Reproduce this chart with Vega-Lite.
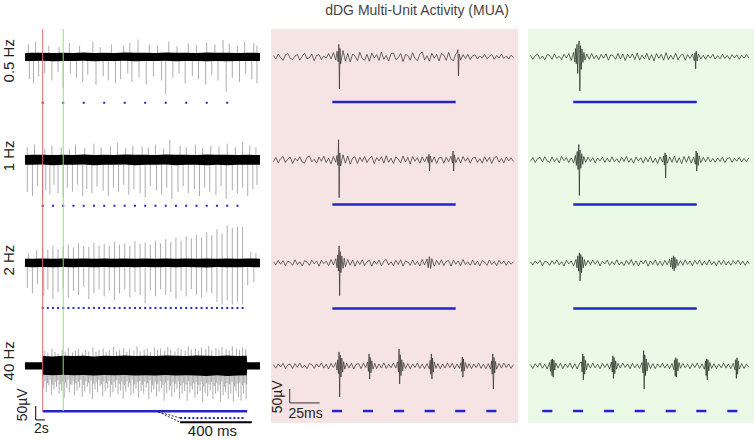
{
"$schema": "https://vega.github.io/schema/vega-lite/v6.json",
"padding": {"left": 0, "top": 3, "right": 0, "bottom": 0},
"title": {"text": "dDG Multi-Unit Activity (MUA)", "fontSize": 14, "font": "Liberation Sans", "fontWeight": "normal", "color": "#444", "anchor": "middle", "dx": 40, "offset": 11},
"config": {"view": {"stroke": null}, "axis": {"disable": true}, "font": "Liberation Sans", "text": {"font": "Liberation Sans", "color": "#222"}},
"datasets": {
"L1b": [{"t":-1.73,"lo":-15,"hi":14},{"t":-1,"lo":-15,"hi":15},{"t":0,"lo":-14,"hi":15},{"t":1,"lo":-16,"hi":14},{"t":2,"lo":-15,"hi":15},{"t":3,"lo":-15,"hi":14},{"t":4,"lo":-14,"hi":16},{"t":5,"lo":-16,"hi":14},{"t":6,"lo":-15,"hi":15},{"t":7,"lo":-15,"hi":14},{"t":8,"lo":-14,"hi":16},{"t":9,"lo":-16,"hi":15},{"t":10,"lo":-15,"hi":15},{"t":11,"lo":-15,"hi":14},{"t":12,"lo":-14,"hi":16},{"t":13,"lo":-16,"hi":15},{"t":14,"lo":-15,"hi":15},{"t":15,"lo":-15,"hi":14},{"t":16,"lo":-16,"hi":16},{"t":17,"lo":-15,"hi":15},{"t":18,"lo":-16,"hi":15},{"t":19,"lo":-15,"hi":14},{"t":20,"lo":-15,"hi":15},{"t":21.2,"lo":-15,"hi":14}],
"L2b": [{"t":-1.73,"lo":-18,"hi":17},{"t":-1,"lo":-18,"hi":18},{"t":0,"lo":-17,"hi":18},{"t":1,"lo":-19,"hi":17},{"t":2,"lo":-18,"hi":18},{"t":3,"lo":-18,"hi":17},{"t":4,"lo":-17,"hi":19},{"t":5,"lo":-19,"hi":17},{"t":6,"lo":-18,"hi":18},{"t":7,"lo":-18,"hi":17},{"t":8,"lo":-17,"hi":19},{"t":9,"lo":-19,"hi":18},{"t":10,"lo":-18,"hi":18},{"t":11,"lo":-18,"hi":17},{"t":12,"lo":-17,"hi":19},{"t":13,"lo":-19,"hi":18},{"t":14,"lo":-18,"hi":18},{"t":15,"lo":-18,"hi":17},{"t":16,"lo":-19,"hi":19},{"t":17,"lo":-18,"hi":18},{"t":18,"lo":-19,"hi":18},{"t":19,"lo":-18,"hi":17},{"t":20,"lo":-18,"hi":18},{"t":21.2,"lo":-18,"hi":17}],
"L3b": [{"t":-1.73,"lo":-15,"hi":15},{"t":-1,"lo":-16,"hi":15},{"t":0,"lo":-15,"hi":16},{"t":1,"lo":-16,"hi":15},{"t":2,"lo":-15,"hi":16},{"t":3,"lo":-16,"hi":15},{"t":4,"lo":-15,"hi":16},{"t":5,"lo":-16,"hi":15},{"t":6,"lo":-15,"hi":16},{"t":7,"lo":-16,"hi":15},{"t":8,"lo":-15,"hi":16},{"t":9,"lo":-16,"hi":15},{"t":10,"lo":-15,"hi":16},{"t":11,"lo":-16,"hi":15},{"t":12,"lo":-15,"hi":16},{"t":13,"lo":-16,"hi":15},{"t":14,"lo":-15,"hi":16},{"t":15,"lo":-16,"hi":15},{"t":16,"lo":-17,"hi":16},{"t":17,"lo":-15,"hi":15},{"t":18,"lo":-16,"hi":16},{"t":19,"lo":-16,"hi":15},{"t":20,"lo":-15,"hi":16},{"t":21.2,"lo":-16,"hi":15}],
"L4b": [{"t":-1.73,"lo":-13,"hi":13},{"t":-0.05,"lo":-13,"hi":13},{"t":0,"lo":-32,"hi":35},{"t":1,"lo":-34,"hi":34},{"t":2,"lo":-32,"hi":36},{"t":3,"lo":-34,"hi":35},{"t":4,"lo":-33,"hi":36},{"t":5,"lo":-35,"hi":34},{"t":6,"lo":-33,"hi":36},{"t":7,"lo":-34,"hi":35},{"t":8,"lo":-33,"hi":37},{"t":9,"lo":-35,"hi":35},{"t":10,"lo":-34,"hi":36},{"t":11,"lo":-35,"hi":35},{"t":12,"lo":-33,"hi":37},{"t":13,"lo":-35,"hi":36},{"t":14,"lo":-34,"hi":35},{"t":15,"lo":-35,"hi":37},{"t":16,"lo":-36,"hi":36},{"t":17,"lo":-34,"hi":35},{"t":18,"lo":-36,"hi":37},{"t":19,"lo":-35,"hi":35},{"t":19.9,"lo":-34,"hi":36},{"t":19.95,"lo":-13,"hi":13},{"t":21.2,"lo":-13,"hi":13}],
"L1s": [{"t":-1.3,"a":-80,"b":0},{"t":-0.9,"a":-95,"b":0},{"t":-0.4,"a":-70,"b":0},{"t":0.2,"a":-60,"b":0},{"t":0.9,"a":-85,"b":0},{"t":1.5,"a":-55,"b":0},{"t":2.0,"a":-110,"b":0},{"t":2.7,"a":-60,"b":0},{"t":3.3,"a":-75,"b":0},{"t":3.9,"a":-90,"b":0},{"t":4.4,"a":-65,"b":0},{"t":5.2,"a":-100,"b":0},{"t":5.9,"a":-70,"b":0},{"t":6.4,"a":-85,"b":0},{"t":7.1,"a":-95,"b":0},{"t":7.6,"a":-80,"b":0},{"t":8.3,"a":-60,"b":0},{"t":8.7,"a":-90,"b":0},{"t":9.4,"a":-75,"b":0},{"t":10.1,"a":-100,"b":0},{"t":10.8,"a":-70,"b":0},{"t":11.6,"a":-85,"b":0},{"t":12.0,"a":-135,"b":0},{"t":12.7,"a":-75,"b":0},{"t":13.3,"a":-60,"b":0},{"t":13.9,"a":-95,"b":0},{"t":14.6,"a":-70,"b":0},{"t":15.2,"a":-80,"b":0},{"t":15.9,"a":-100,"b":0},{"t":16.5,"a":-65,"b":0},{"t":17.1,"a":-85,"b":0},{"t":17.9,"a":-125,"b":0},{"t":18.5,"a":-75,"b":0},{"t":19.2,"a":-90,"b":0},{"t":19.8,"a":-60,"b":0},{"t":20.4,"a":-80,"b":0},{"t":20.9,"a":-95,"b":0},
{"t":-1.4,"a":0,"b":45},{"t":-0.7,"a":0,"b":55},{"t":0.6,"a":0,"b":40},{"t":1.6,"a":0,"b":35},{"t":2.6,"a":0,"b":50},{"t":3.6,"a":0,"b":40},{"t":4.9,"a":0,"b":55},{"t":5.6,"a":0,"b":35},{"t":6.7,"a":0,"b":45},{"t":7.9,"a":0,"b":40},{"t":8.5,"a":0,"b":50},{"t":9.3,"a":0,"b":62},{"t":10.4,"a":0,"b":45},{"t":11.2,"a":0,"b":40},{"t":12.3,"a":0,"b":55},{"t":13.1,"a":0,"b":38},{"t":14.2,"a":0,"b":48},{"t":15.0,"a":0,"b":42},{"t":16.0,"a":0,"b":52},{"t":16.8,"a":0,"b":45},{"t":17.6,"a":0,"b":60},{"t":18.2,"a":0,"b":48},{"t":19.0,"a":0,"b":40},{"t":19.7,"a":0,"b":55},{"t":20.6,"a":0,"b":50},{"t":20.9,"a":0,"b":40}],
"L2s": [{"t":-1.5,"a":-115,"b":0},{"t":-1.0,"a":-130,"b":0},{"t":-0.5,"a":-95,"b":0},{"t":0.0,"a":-140,"b":0},{"t":0.3,"a":-110,"b":0},{"t":0.7,"a":-125,"b":0},{"t":1.1,"a":-90,"b":0},{"t":1.5,"a":-120,"b":0},{"t":2.0,"a":-135,"b":0},{"t":2.4,"a":-100,"b":0},{"t":2.9,"a":-115,"b":0},{"t":3.4,"a":-90,"b":0},{"t":3.9,"a":-130,"b":0},{"t":4.3,"a":-105,"b":0},{"t":4.8,"a":-120,"b":0},{"t":5.3,"a":-95,"b":0},{"t":5.9,"a":-110,"b":0},{"t":6.4,"a":-130,"b":0},{"t":6.9,"a":-100,"b":0},{"t":7.4,"a":-115,"b":0},{"t":7.9,"a":-90,"b":0},{"t":8.4,"a":-125,"b":0},{"t":8.9,"a":-105,"b":0},{"t":9.5,"a":-120,"b":0},{"t":10.0,"a":-135,"b":0},{"t":10.5,"a":-95,"b":0},{"t":11.1,"a":-110,"b":0},{"t":11.6,"a":-125,"b":0},{"t":12.1,"a":-100,"b":0},{"t":12.6,"a":-140,"b":0},{"t":13.2,"a":-115,"b":0},{"t":13.7,"a":-95,"b":0},{"t":14.2,"a":-120,"b":0},{"t":14.8,"a":-105,"b":0},{"t":15.3,"a":-130,"b":0},{"t":15.8,"a":-100,"b":0},{"t":16.3,"a":-115,"b":0},{"t":16.9,"a":-125,"b":0},{"t":17.4,"a":-95,"b":0},{"t":17.9,"a":-140,"b":0},{"t":18.5,"a":-110,"b":0},{"t":19.0,"a":-120,"b":0},{"t":19.5,"a":-100,"b":0},{"t":20.0,"a":-130,"b":0},{"t":20.5,"a":-105,"b":0},{"t":20.9,"a":-90,"b":0},
{"t":-1.5,"a":0,"b":45},{"t":-0.8,"a":0,"b":55},{"t":0.2,"a":0,"b":40},{"t":0.9,"a":0,"b":50},{"t":1.8,"a":0,"b":45},{"t":2.6,"a":0,"b":38},{"t":3.2,"a":0,"b":55},{"t":4.1,"a":0,"b":42},{"t":5.0,"a":0,"b":58},{"t":5.7,"a":0,"b":45},{"t":6.6,"a":0,"b":50},{"t":7.3,"a":0,"b":60},{"t":8.1,"a":0,"b":42},{"t":8.8,"a":0,"b":50},{"t":9.7,"a":0,"b":48},{"t":10.3,"a":0,"b":45},{"t":11.0,"a":0,"b":55},{"t":11.8,"a":0,"b":40},{"t":12.4,"a":0,"b":72},{"t":13.4,"a":0,"b":50},{"t":14.0,"a":0,"b":45},{"t":14.9,"a":0,"b":55},{"t":15.6,"a":0,"b":42},{"t":16.4,"a":0,"b":50},{"t":17.2,"a":0,"b":48},{"t":18.0,"a":0,"b":58},{"t":18.8,"a":0,"b":45},{"t":19.5,"a":0,"b":65},{"t":20.2,"a":0,"b":50},{"t":20.8,"a":0,"b":45}],
"L3s": [{"t":-1.5,"a":-90,"b":0},{"t":-1.0,"a":-110,"b":0},{"t":-0.5,"a":-75,"b":0},{"t":0.1,"a":-120,"b":0},{"t":0.5,"a":-95,"b":0},{"t":1.0,"a":-130,"b":0},{"t":1.5,"a":-105,"b":0},{"t":2.0,"a":-90,"b":0},{"t":2.5,"a":-125,"b":0},{"t":3.0,"a":-100,"b":0},{"t":3.5,"a":-115,"b":0},{"t":4.0,"a":-85,"b":0},{"t":4.5,"a":-130,"b":0},{"t":5.0,"a":-110,"b":0},{"t":5.5,"a":-95,"b":0},{"t":6.0,"a":-120,"b":0},{"t":6.5,"a":-100,"b":0},{"t":7.0,"a":-135,"b":0},{"t":7.5,"a":-110,"b":0},{"t":8.0,"a":-95,"b":0},{"t":8.5,"a":-125,"b":0},{"t":9.0,"a":-105,"b":0},{"t":9.5,"a":-115,"b":0},{"t":10.0,"a":-145,"b":0},{"t":10.5,"a":-100,"b":0},{"t":11.0,"a":-120,"b":0},{"t":11.5,"a":-95,"b":0},{"t":12.0,"a":-115,"b":0},{"t":12.5,"a":-105,"b":0},{"t":13.0,"a":-130,"b":0},{"t":13.5,"a":-100,"b":0},{"t":14.0,"a":-120,"b":0},{"t":14.5,"a":-95,"b":0},{"t":15.0,"a":-115,"b":0},{"t":15.5,"a":-125,"b":0},{"t":16.0,"a":-105,"b":0},{"t":16.5,"a":-110,"b":0},{"t":17.0,"a":-140,"b":0},{"t":17.5,"a":-150,"b":0},{"t":18.0,"a":-135,"b":0},{"t":18.5,"a":-150,"b":0},{"t":19.0,"a":-140,"b":0},{"t":19.5,"a":-150,"b":0},{"t":20.0,"a":-80,"b":0},{"t":20.6,"a":-70,"b":0},
{"t":-1.4,"a":0,"b":35},{"t":-0.6,"a":0,"b":45},{"t":0.0,"a":0,"b":55},{"t":0.5,"a":0,"b":48},{"t":1.0,"a":0,"b":62},{"t":1.5,"a":0,"b":50},{"t":2.0,"a":0,"b":58},{"t":2.5,"a":0,"b":65},{"t":3.0,"a":0,"b":55},{"t":3.5,"a":0,"b":70},{"t":4.0,"a":0,"b":60},{"t":4.5,"a":0,"b":58},{"t":5.0,"a":0,"b":72},{"t":5.5,"a":0,"b":62},{"t":6.0,"a":0,"b":68},{"t":6.5,"a":0,"b":60},{"t":7.0,"a":0,"b":75},{"t":7.5,"a":0,"b":65},{"t":8.0,"a":0,"b":70},{"t":8.5,"a":0,"b":62},{"t":9.0,"a":0,"b":78},{"t":9.5,"a":0,"b":68},{"t":10.0,"a":0,"b":72},{"t":10.5,"a":0,"b":65},{"t":11.0,"a":0,"b":80},{"t":11.5,"a":0,"b":70},{"t":12.0,"a":0,"b":85},{"t":12.5,"a":0,"b":75},{"t":13.0,"a":0,"b":90},{"t":13.5,"a":0,"b":80},{"t":14.0,"a":0,"b":95},{"t":14.5,"a":0,"b":88},{"t":15.0,"a":0,"b":100},{"t":15.5,"a":0,"b":92},{"t":16.0,"a":0,"b":110},{"t":16.5,"a":0,"b":100},{"t":17.0,"a":0,"b":120},{"t":17.5,"a":0,"b":105},{"t":18.0,"a":0,"b":135},{"t":18.5,"a":0,"b":125},{"t":19.0,"a":0,"b":130},{"t":19.5,"a":0,"b":128},{"t":20.3,"a":0,"b":40},{"t":20.8,"a":0,"b":35}],
"L4s": [{"t":0.2,"a":30,"b":55},{"t":0.5,"a":30,"b":48},{"t":0.9,"a":30,"b":62},{"t":1.2,"a":30,"b":50},{"t":1.5,"a":30,"b":45},{"t":1.9,"a":30,"b":58},{"t":2.2,"a":30,"b":52},{"t":2.5,"a":30,"b":65},{"t":2.9,"a":30,"b":48},{"t":3.2,"a":30,"b":55},{"t":3.5,"a":30,"b":60},{"t":3.9,"a":30,"b":47},{"t":4.2,"a":30,"b":58},{"t":4.5,"a":30,"b":52},{"t":4.9,"a":30,"b":66},{"t":5.2,"a":30,"b":50},{"t":5.5,"a":30,"b":57},{"t":5.9,"a":30,"b":62},{"t":6.2,"a":30,"b":49},{"t":6.5,"a":30,"b":55},{"t":6.9,"a":30,"b":68},{"t":7.2,"a":30,"b":52},{"t":7.5,"a":30,"b":58},{"t":7.9,"a":30,"b":64},{"t":8.2,"a":30,"b":50},{"t":8.5,"a":30,"b":60},{"t":8.9,"a":30,"b":55},{"t":9.2,"a":30,"b":70},{"t":9.5,"a":30,"b":52},{"t":9.9,"a":30,"b":58},{"t":10.2,"a":30,"b":63},{"t":10.5,"a":30,"b":50},{"t":10.9,"a":30,"b":66},{"t":11.2,"a":30,"b":57},{"t":11.5,"a":30,"b":62},{"t":11.9,"a":30,"b":54},{"t":12.2,"a":30,"b":68},{"t":12.5,"a":30,"b":58},{"t":12.9,"a":30,"b":52},{"t":13.2,"a":30,"b":64},{"t":13.5,"a":30,"b":60},{"t":13.9,"a":30,"b":55},{"t":14.2,"a":30,"b":70},{"t":14.5,"a":30,"b":58},{"t":14.9,"a":30,"b":62},{"t":15.2,"a":30,"b":54},{"t":15.5,"a":30,"b":66},{"t":15.9,"a":30,"b":60},{"t":16.2,"a":30,"b":72},{"t":16.5,"a":30,"b":56},{"t":16.9,"a":30,"b":63},{"t":17.2,"a":30,"b":58},{"t":17.5,"a":30,"b":68},{"t":17.9,"a":30,"b":60},{"t":18.2,"a":30,"b":55},{"t":18.5,"a":30,"b":70},{"t":18.9,"a":30,"b":62},{"t":19.2,"a":30,"b":58},{"t":19.5,"a":30,"b":66},{"t":19.8,"a":30,"b":60},
{"t":0.1,"a":-80,"b":-28},{"t":0.35,"a":-95,"b":-28},{"t":0.6,"a":-70,"b":-28},{"t":0.85,"a":-105,"b":-28},{"t":1.1,"a":-85,"b":-28},{"t":1.35,"a":-75,"b":-28},{"t":1.6,"a":-100,"b":-28},{"t":1.85,"a":-90,"b":-28},{"t":2.1,"a":-115,"b":-28},{"t":2.35,"a":-80,"b":-28},{"t":2.6,"a":-95,"b":-28},{"t":2.85,"a":-70,"b":-28},{"t":3.1,"a":-105,"b":-28},{"t":3.35,"a":-88,"b":-28},{"t":3.6,"a":-78,"b":-28},{"t":3.85,"a":-110,"b":-28},{"t":4.1,"a":-92,"b":-28},{"t":4.35,"a":-75,"b":-28},{"t":4.6,"a":-100,"b":-28},{"t":4.85,"a":-120,"b":-28},{"t":5.1,"a":-85,"b":-28},{"t":5.35,"a":-95,"b":-28},{"t":5.6,"a":-72,"b":-28},{"t":5.85,"a":-108,"b":-28},{"t":6.1,"a":-90,"b":-28},{"t":6.35,"a":-80,"b":-28},{"t":6.6,"a":-112,"b":-28},{"t":6.85,"a":-95,"b":-28},{"t":7.1,"a":-78,"b":-28},{"t":7.35,"a":-102,"b":-28},{"t":7.6,"a":-88,"b":-28},{"t":7.85,"a":-118,"b":-28},{"t":8.1,"a":-92,"b":-28},{"t":8.35,"a":-76,"b":-28},{"t":8.6,"a":-105,"b":-28},{"t":8.85,"a":-98,"b":-28},{"t":9.1,"a":-82,"b":-28},{"t":9.35,"a":-115,"b":-28},{"t":9.6,"a":-90,"b":-28},{"t":9.85,"a":-100,"b":-28},{"t":10.1,"a":-78,"b":-28},{"t":10.35,"a":-120,"b":-28},{"t":10.6,"a":-95,"b":-28},{"t":10.85,"a":-85,"b":-28},{"t":11.1,"a":-110,"b":-28},{"t":11.35,"a":-92,"b":-28},{"t":11.6,"a":-80,"b":-28},{"t":11.85,"a":-125,"b":-28},{"t":12.1,"a":-98,"b":-28},{"t":12.35,"a":-88,"b":-28},{"t":12.6,"a":-112,"b":-28},{"t":12.85,"a":-95,"b":-28},{"t":13.1,"a":-82,"b":-28},{"t":13.35,"a":-118,"b":-28},{"t":13.6,"a":-100,"b":-28},{"t":13.85,"a":-90,"b":-28},{"t":14.1,"a":-125,"b":-28},{"t":14.35,"a":-96,"b":-28},{"t":14.6,"a":-85,"b":-28},{"t":14.85,"a":-115,"b":-28},{"t":15.1,"a":-102,"b":-28},{"t":15.35,"a":-90,"b":-28},{"t":15.6,"a":-128,"b":-28},{"t":15.85,"a":-98,"b":-28},{"t":16.1,"a":-110,"b":-28},{"t":16.35,"a":-88,"b":-28},{"t":16.6,"a":-120,"b":-28},{"t":16.85,"a":-100,"b":-28},{"t":17.1,"a":-92,"b":-28},{"t":17.35,"a":-130,"b":-28},{"t":17.6,"a":-105,"b":-28},{"t":17.85,"a":-95,"b":-28},{"t":18.1,"a":-118,"b":-28},{"t":18.35,"a":-100,"b":-28},{"t":18.6,"a":-128,"b":-28},{"t":18.85,"a":-92,"b":-28},{"t":19.1,"a":-112,"b":-28},{"t":19.35,"a":-125,"b":-28},{"t":19.6,"a":-100,"b":-28},{"t":19.85,"a":-118,"b":-28},
{"t":0.22,"a":-55,"b":-28},{"t":0.47,"a":-62,"b":-28},{"t":0.72,"a":-50,"b":-28},{"t":0.97,"a":-68,"b":-28},{"t":1.22,"a":-58,"b":-28},{"t":1.47,"a":-52,"b":-28},{"t":1.72,"a":-65,"b":-28},{"t":1.97,"a":-56,"b":-28},{"t":2.22,"a":-60,"b":-28},{"t":2.47,"a":-50,"b":-28},{"t":2.72,"a":-66,"b":-28},{"t":2.97,"a":-54,"b":-28},{"t":3.22,"a":-62,"b":-28},{"t":3.47,"a":-57,"b":-28},{"t":3.72,"a":-50,"b":-28},{"t":3.97,"a":-68,"b":-28},{"t":4.22,"a":-55,"b":-28},{"t":4.47,"a":-60,"b":-28},{"t":4.72,"a":-52,"b":-28},{"t":4.97,"a":-64,"b":-28},{"t":5.22,"a":-58,"b":-28},{"t":5.47,"a":-50,"b":-28},{"t":5.72,"a":-66,"b":-28},{"t":5.97,"a":-56,"b":-28},{"t":6.22,"a":-62,"b":-28},{"t":6.47,"a":-53,"b":-28},{"t":6.72,"a":-68,"b":-28},{"t":6.97,"a":-58,"b":-28},{"t":7.22,"a":-51,"b":-28},{"t":7.47,"a":-64,"b":-28},{"t":7.72,"a":-57,"b":-28},{"t":7.97,"a":-70,"b":-28},{"t":8.22,"a":-55,"b":-28},{"t":8.47,"a":-62,"b":-28},{"t":8.72,"a":-50,"b":-28},{"t":8.97,"a":-66,"b":-28},{"t":9.22,"a":-59,"b":-28},{"t":9.47,"a":-54,"b":-28},{"t":9.72,"a":-68,"b":-28},{"t":9.97,"a":-57,"b":-28},{"t":10.22,"a":-62,"b":-28},{"t":10.47,"a":-52,"b":-28},{"t":10.72,"a":-70,"b":-28},{"t":10.97,"a":-58,"b":-28},{"t":11.22,"a":-64,"b":-28},{"t":11.47,"a":-55,"b":-28},{"t":11.72,"a":-68,"b":-28},{"t":11.97,"a":-60,"b":-28},{"t":12.22,"a":-53,"b":-28},{"t":12.47,"a":-72,"b":-28},{"t":12.72,"a":-58,"b":-28},{"t":12.97,"a":-64,"b":-28},{"t":13.22,"a":-56,"b":-28},{"t":13.47,"a":-70,"b":-28},{"t":13.72,"a":-60,"b":-28},{"t":13.97,"a":-66,"b":-28},{"t":14.22,"a":-55,"b":-28},{"t":14.47,"a":-72,"b":-28},{"t":14.72,"a":-62,"b":-28},{"t":14.97,"a":-58,"b":-28},{"t":15.22,"a":-68,"b":-28},{"t":15.47,"a":-56,"b":-28},{"t":15.72,"a":-74,"b":-28},{"t":15.97,"a":-62,"b":-28},{"t":16.22,"a":-66,"b":-28},{"t":16.47,"a":-58,"b":-28},{"t":16.72,"a":-72,"b":-28},{"t":16.97,"a":-60,"b":-28},{"t":17.22,"a":-68,"b":-28},{"t":17.47,"a":-56,"b":-28},{"t":17.72,"a":-75,"b":-28},{"t":17.97,"a":-62,"b":-28},{"t":18.22,"a":-66,"b":-28},{"t":18.47,"a":-58,"b":-28},{"t":18.72,"a":-74,"b":-28},{"t":18.97,"a":-64,"b":-28},{"t":19.22,"a":-60,"b":-28},{"t":19.47,"a":-70,"b":-28},{"t":19.72,"a":-62,"b":-28},{"t":19.9,"a":-66,"b":-28}],
"L1p": [{"t":0},{"t":2},{"t":4},{"t":6},{"t":8},{"t":10},{"t":12},{"t":14},{"t":16},{"t":18}],
"L2p": [{"t":0},{"t":1},{"t":2},{"t":3},{"t":4},{"t":5},{"t":6},{"t":7},{"t":8},{"t":9},{"t":10},{"t":11},{"t":12},{"t":13},{"t":14},{"t":15},{"t":16},{"t":17},{"t":18},{"t":19}],
"L3p": [{"t":0},{"t":0.5},{"t":1},{"t":1.5},{"t":2},{"t":2.5},{"t":3},{"t":3.5},{"t":4},{"t":4.5},{"t":5},{"t":5.5},{"t":6},{"t":6.5},{"t":7},{"t":7.5},{"t":8},{"t":8.5},{"t":9},{"t":9.5},{"t":10},{"t":10.5},{"t":11},{"t":11.5},{"t":12},{"t":12.5},{"t":13},{"t":13.5},{"t":14},{"t":14.5},{"t":15},{"t":15.5},{"t":16},{"t":16.5},{"t":17},{"t":17.5},{"t":18},{"t":18.5},{"t":19},{"t":19.5}],
"M1": [{"t":2,"v":5},{"t":4,"v":-8},{"t":6,"v":10},{"t":8,"v":-3},{"t":10,"v":-13},{"t":12,"v":7},{"t":14,"v":12},{"t":16,"v":-5},{"t":18,"v":-10},{"t":20,"v":3},{"t":22,"v":8},{"t":24,"v":-12},{"t":26,"v":2},{"t":28,"v":13},{"t":30,"v":-7},{"t":32,"v":-3},{"t":34,"v":10},{"t":36,"v":-14},{"t":38,"v":5},{"t":40,"v":8},{"t":42,"v":-10},{"t":44,"v":3},{"t":46,"v":-5},{"t":48,"v":12},{"t":50,"v":-8},{"t":52,"v":15},{"t":54,"v":-12},{"t":55,"v":20},{"t":56,"v":-18},{"t":56.5,"v":45},{"t":57,"v":-115},{"t":57.5,"v":30},{"t":58,"v":-25},{"t":60,"v":22},{"t":62,"v":-15},{"t":64,"v":12},{"t":66,"v":-18},{"t":68,"v":10},{"t":70,"v":4},{"t":72,"v":-14},{"t":74,"v":16},{"t":76,"v":-6},{"t":78,"v":-12},{"t":80,"v":9},{"t":82,"v":-16},{"t":84,"v":14},{"t":86,"v":-4},{"t":88,"v":8},{"t":90,"v":-13},{"t":92,"v":17},{"t":94,"v":-9},{"t":96,"v":5},{"t":98,"v":-15},{"t":100,"v":11},{"t":102,"v":14},{"t":104,"v":-10},{"t":106,"v":-3},{"t":108,"v":12},{"t":110,"v":-17},{"t":112,"v":8},{"t":114,"v":5},{"t":116,"v":-12},{"t":118,"v":15},{"t":120,"v":-6},{"t":122,"v":-14},{"t":124,"v":10},{"t":126,"v":18},{"t":128,"v":-11},{"t":130,"v":4},{"t":132,"v":-16},{"t":134,"v":13},{"t":136,"v":-5},{"t":138,"v":9},{"t":140,"v":-15},{"t":142,"v":12},{"t":144,"v":6},{"t":146,"v":-13},{"t":148,"v":16},{"t":150,"v":-8},{"t":152,"v":-14},{"t":154,"v":11},{"t":155,"v":14},{"t":155.7,"v":26},{"t":156.2,"v":-68},{"t":156.7,"v":10},{"t":158,"v":-12},{"t":160,"v":8},{"t":162,"v":-6},{"t":164,"v":9},{"t":166,"v":-10},{"t":168,"v":4},{"t":170,"v":7},{"t":172,"v":-8},{"t":174,"v":3},{"t":176,"v":-5},{"t":178,"v":9},{"t":180,"v":-7},{"t":182,"v":2},{"t":184,"v":8},{"t":186,"v":-9},{"t":188,"v":5},{"t":190,"v":-4},{"t":192,"v":10},{"t":194,"v":-6},{"t":196,"v":3},{"t":198,"v":-8},{"t":200,"v":6},{"t":202,"v":-3}],
"M2": [{"t":2,"v":-6},{"t":4,"v":9},{"t":6,"v":-11},{"t":8,"v":4},{"t":10,"v":12},{"t":12,"v":-9},{"t":14,"v":3},{"t":16,"v":10},{"t":18,"v":-13},{"t":20,"v":6},{"t":22,"v":-4},{"t":24,"v":11},{"t":26,"v":-8},{"t":28,"v":-12},{"t":30,"v":9},{"t":32,"v":14},{"t":34,"v":-7},{"t":36,"v":2},{"t":38,"v":-12},{"t":40,"v":10},{"t":42,"v":-5},{"t":44,"v":13},{"t":46,"v":-10},{"t":48,"v":6},{"t":50,"v":-14},{"t":52,"v":12},{"t":54,"v":-9},{"t":55,"v":16},{"t":55.8,"v":-20},{"t":56.3,"v":72},{"t":56.8,"v":-136},{"t":57.3,"v":25},{"t":58,"v":-22},{"t":60,"v":18},{"t":62,"v":-12},{"t":64,"v":14},{"t":66,"v":-16},{"t":68,"v":7},{"t":70,"v":11},{"t":72,"v":-13},{"t":74,"v":9},{"t":76,"v":-6},{"t":78,"v":12},{"t":80,"v":-10},{"t":82,"v":5},{"t":84,"v":13},{"t":86,"v":-14},{"t":88,"v":8},{"t":90,"v":-4},{"t":92,"v":11},{"t":94,"v":-12},{"t":96,"v":15},{"t":98,"v":-9},{"t":100,"v":6},{"t":102,"v":-13},{"t":104,"v":10},{"t":106,"v":3},{"t":108,"v":-11},{"t":110,"v":14},{"t":112,"v":-8},{"t":114,"v":9},{"t":116,"v":-15},{"t":118,"v":12},{"t":120,"v":-5},{"t":122,"v":8},{"t":124,"v":-12},{"t":126,"v":10},{"t":128,"v":-7},{"t":130,"v":12},{"t":131,"v":-10},{"t":131.6,"v":20},{"t":132.1,"v":-40},{"t":132.6,"v":14},{"t":134,"v":-9},{"t":136,"v":11},{"t":138,"v":-13},{"t":140,"v":7},{"t":142,"v":10},{"t":144,"v":-12},{"t":146,"v":9},{"t":148,"v":-6},{"t":150,"v":13},{"t":151.2,"v":-12},{"t":151.7,"v":32},{"t":152.2,"v":-40},{"t":152.7,"v":18},{"t":154,"v":-10},{"t":156,"v":9},{"t":158,"v":-11},{"t":160,"v":12},{"t":162,"v":-5},{"t":164,"v":8},{"t":166,"v":-12},{"t":168,"v":6},{"t":170,"v":10},{"t":172,"v":-9},{"t":174,"v":4},{"t":176,"v":-12},{"t":178,"v":11},{"t":180,"v":-6},{"t":182,"v":9},{"t":184,"v":-13},{"t":186,"v":7},{"t":188,"v":12},{"t":190,"v":-8},{"t":192,"v":5},{"t":194,"v":-11},{"t":196,"v":10},{"t":198,"v":-4},{"t":200,"v":8},{"t":202,"v":-6}],
"M3": [{"t":2,"v":4},{"t":4,"v":-7},{"t":6,"v":9},{"t":8,"v":-5},{"t":10,"v":8},{"t":12,"v":-10},{"t":14,"v":6},{"t":16,"v":2},{"t":18,"v":-9},{"t":20,"v":11},{"t":22,"v":-6},{"t":24,"v":4},{"t":26,"v":-11},{"t":28,"v":8},{"t":30,"v":3},{"t":32,"v":-9},{"t":34,"v":10},{"t":36,"v":-4},{"t":38,"v":7},{"t":40,"v":-12},{"t":42,"v":9},{"t":44,"v":-3},{"t":46,"v":6},{"t":48,"v":-10},{"t":50,"v":12},{"t":52,"v":-8},{"t":54,"v":15},{"t":55,"v":-18},{"t":55.6,"v":28},{"t":56.2,"v":-30},{"t":56.7,"v":61},{"t":57.2,"v":-118},{"t":57.7,"v":40},{"t":58.3,"v":-35},{"t":59,"v":25},{"t":60,"v":-20},{"t":61,"v":16},{"t":62,"v":-14},{"t":64,"v":12},{"t":66,"v":-9},{"t":68,"v":10},{"t":70,"v":-12},{"t":72,"v":8},{"t":74,"v":-6},{"t":76,"v":11},{"t":78,"v":-10},{"t":80,"v":5},{"t":82,"v":9},{"t":84,"v":-12},{"t":86,"v":7},{"t":88,"v":-5},{"t":90,"v":10},{"t":92,"v":-11},{"t":94,"v":6},{"t":96,"v":12},{"t":98,"v":-8},{"t":100,"v":4},{"t":102,"v":-10},{"t":104,"v":9},{"t":106,"v":-6},{"t":108,"v":11},{"t":110,"v":-12},{"t":112,"v":7},{"t":114,"v":3},{"t":116,"v":-9},{"t":118,"v":10},{"t":120,"v":-7},{"t":122,"v":5},{"t":124,"v":-11},{"t":126,"v":12},{"t":128,"v":-8},{"t":130,"v":14},{"t":131,"v":-18},{"t":132,"v":22},{"t":133,"v":-20},{"t":134,"v":15},{"t":136,"v":-12},{"t":138,"v":9},{"t":140,"v":-7},{"t":142,"v":11},{"t":144,"v":-10},{"t":146,"v":6},{"t":148,"v":8},{"t":150,"v":-12},{"t":152,"v":10},{"t":154,"v":-5},{"t":156,"v":7},{"t":158,"v":-10},{"t":160,"v":12},{"t":162,"v":-6},{"t":164,"v":4},{"t":166,"v":-9},{"t":168,"v":10},{"t":170,"v":-7},{"t":172,"v":6},{"t":174,"v":-11},{"t":176,"v":8},{"t":178,"v":3},{"t":180,"v":-9},{"t":182,"v":10},{"t":184,"v":-6},{"t":186,"v":5},{"t":188,"v":-10},{"t":190,"v":9},{"t":192,"v":-4},{"t":194,"v":7},{"t":196,"v":-9},{"t":198,"v":6},{"t":200,"v":-5},{"t":202,"v":4}],
"M4": [{"t":2,"v":5},{"t":4,"v":-8},{"t":6,"v":7},{"t":8,"v":-4},{"t":10,"v":9},{"t":12,"v":-10},{"t":14,"v":4},{"t":16,"v":6},{"t":18,"v":-9},{"t":20,"v":8},{"t":22,"v":-5},{"t":24,"v":10},{"t":26,"v":-7},{"t":28,"v":3},{"t":30,"v":-10},{"t":32,"v":8},{"t":34,"v":5},{"t":36,"v":-9},{"t":38,"v":7},{"t":40,"v":-4},{"t":42,"v":10},{"t":44,"v":-8},{"t":46,"v":6},{"t":48,"v":-11},{"t":50,"v":9},{"t":52,"v":-6},{"t":54,"v":12},{"t":55,"v":-15},{"t":55.6,"v":22},{"t":56.2,"v":-28},{"t":56.7,"v":50},{"t":57.2,"v":-111},{"t":57.7,"v":38},{"t":58.3,"v":-40},{"t":59,"v":28},{"t":59.7,"v":-22},{"t":60.5,"v":15},{"t":61.5,"v":-12},{"t":63,"v":10},{"t":65,"v":-8},{"t":67,"v":9},{"t":69,"v":-11},{"t":71,"v":6},{"t":73,"v":8},{"t":75,"v":-10},{"t":77,"v":9},{"t":79,"v":-6},{"t":80.5,"v":14},{"t":81.2,"v":-20},{"t":81.7,"v":43},{"t":82.2,"v":-47},{"t":82.7,"v":30},{"t":83.3,"v":-25},{"t":84,"v":18},{"t":85,"v":-12},{"t":86.5,"v":9},{"t":88,"v":-10},{"t":90,"v":7},{"t":92,"v":-8},{"t":94,"v":11},{"t":96,"v":-9},{"t":98,"v":6},{"t":100,"v":-7},{"t":102,"v":10},{"t":104,"v":-8},{"t":105.5,"v":14},{"t":106.2,"v":-22},{"t":106.7,"v":61},{"t":107.2,"v":-65},{"t":107.7,"v":40},{"t":108.3,"v":-35},{"t":109,"v":22},{"t":109.7,"v":-18},{"t":110.5,"v":12},{"t":112,"v":-9},{"t":114,"v":8},{"t":116,"v":-10},{"t":118,"v":7},{"t":120,"v":-6},{"t":122,"v":10},{"t":124,"v":-9},{"t":126,"v":6},{"t":128,"v":-10},{"t":130,"v":8},{"t":132,"v":-12},{"t":132.6,"v":20},{"t":133.1,"v":-30},{"t":133.6,"v":43},{"t":134.1,"v":-47},{"t":134.6,"v":28},{"t":135.2,"v":-22},{"t":136,"v":14},{"t":137.5,"v":-9},{"t":139,"v":8},{"t":141,"v":-10},{"t":143,"v":7},{"t":145,"v":-8},{"t":147,"v":10},{"t":149,"v":-6},{"t":151,"v":9},{"t":153,"v":-11},{"t":155,"v":7},{"t":157,"v":-9},{"t":158.3,"v":12},{"t":158.9,"v":-20},{"t":159.4,"v":32},{"t":159.9,"v":-40},{"t":160.4,"v":25},{"t":161,"v":-18},{"t":162,"v":12},{"t":163.5,"v":-9},{"t":165,"v":8},{"t":167,"v":-10},{"t":169,"v":7},{"t":171,"v":-6},{"t":173,"v":10},{"t":175,"v":-9},{"t":177,"v":6},{"t":179,"v":-10},{"t":181,"v":8},{"t":183,"v":-12},{"t":183.8,"v":18},{"t":184.3,"v":-30},{"t":184.8,"v":43},{"t":185.3,"v":-83},{"t":185.8,"v":30},{"t":186.4,"v":-25},{"t":187,"v":16},{"t":188,"v":-12},{"t":190,"v":9},{"t":192,"v":-8},{"t":194,"v":10},{"t":196,"v":-6},{"t":198,"v":7},{"t":200,"v":-9},{"t":202,"v":4}],
"R1": [{"t":2,"v":6},{"t":4,"v":-9},{"t":6,"v":4},{"t":8,"v":10},{"t":10,"v":-7},{"t":12,"v":3},{"t":14,"v":-11},{"t":16,"v":8},{"t":18,"v":5},{"t":20,"v":-9},{"t":22,"v":11},{"t":24,"v":-6},{"t":26,"v":2},{"t":28,"v":-10},{"t":30,"v":9},{"t":32,"v":-4},{"t":34,"v":12},{"t":36,"v":-13},{"t":38,"v":16},{"t":39,"v":-18},{"t":39.6,"v":30},{"t":40.2,"v":-25},{"t":40.8,"v":45},{"t":41.4,"v":-60},{"t":42,"v":35},{"t":42.6,"v":57},{"t":43.2,"v":-122},{"t":43.8,"v":40},{"t":44.4,"v":-45},{"t":45,"v":28},{"t":45.8,"v":-20},{"t":46.6,"v":16},{"t":47.5,"v":-12},{"t":49,"v":10},{"t":51,"v":-9},{"t":53,"v":12},{"t":55,"v":-7},{"t":57,"v":6},{"t":59,"v":-10},{"t":61,"v":9},{"t":63,"v":-5},{"t":65,"v":11},{"t":67,"v":-12},{"t":69,"v":7},{"t":71,"v":4},{"t":73,"v":-9},{"t":75,"v":12},{"t":77,"v":-8},{"t":79,"v":10},{"t":81,"v":-13},{"t":83,"v":9},{"t":85,"v":-4},{"t":87,"v":11},{"t":89,"v":-10},{"t":91,"v":14},{"t":93,"v":-12},{"t":95,"v":6},{"t":97,"v":-8},{"t":99,"v":13},{"t":101,"v":-11},{"t":103,"v":8},{"t":105,"v":-14},{"t":107,"v":12},{"t":109,"v":-5},{"t":111,"v":9},{"t":113,"v":-12},{"t":115,"v":15},{"t":117,"v":-10},{"t":119,"v":6},{"t":121,"v":-9},{"t":123,"v":13},{"t":125,"v":-11},{"t":127,"v":4},{"t":129,"v":10},{"t":131,"v":-12},{"t":133,"v":8},{"t":135,"v":-6},{"t":137,"v":10},{"t":138.5,"v":-14},{"t":139.2,"v":15},{"t":139.7,"v":-43},{"t":140.2,"v":20},{"t":141,"v":-15},{"t":142,"v":10},{"t":144,"v":-8},{"t":146,"v":6},{"t":148,"v":-9},{"t":150,"v":7},{"t":152,"v":-5},{"t":154,"v":9},{"t":156,"v":-8},{"t":158,"v":4},{"t":160,"v":-7},{"t":162,"v":9},{"t":164,"v":-6},{"t":166,"v":5},{"t":168,"v":-9},{"t":170,"v":8},{"t":172,"v":-4},{"t":174,"v":7},{"t":176,"v":-9},{"t":178,"v":6},{"t":180,"v":-5},{"t":182,"v":8},{"t":184,"v":-4}],
"R2": [{"t":2,"v":-5},{"t":4,"v":8},{"t":6,"v":-10},{"t":8,"v":4},{"t":10,"v":9},{"t":12,"v":-7},{"t":14,"v":11},{"t":16,"v":-4},{"t":18,"v":-9},{"t":20,"v":10},{"t":22,"v":-6},{"t":24,"v":5},{"t":26,"v":-11},{"t":28,"v":12},{"t":30,"v":-3},{"t":32,"v":8},{"t":34,"v":-10},{"t":36,"v":7},{"t":38,"v":-12},{"t":39.5,"v":16},{"t":40.3,"v":-20},{"t":41,"v":30},{"t":41.7,"v":-35},{"t":42.3,"v":55},{"t":42.8,"v":-128},{"t":43.3,"v":35},{"t":44,"v":-30},{"t":44.8,"v":22},{"t":45.6,"v":-16},{"t":46.5,"v":12},{"t":48,"v":-9},{"t":50,"v":10},{"t":52,"v":-6},{"t":54,"v":8},{"t":56,"v":-11},{"t":58,"v":7},{"t":60,"v":-4},{"t":62,"v":10},{"t":64,"v":-9},{"t":66,"v":6},{"t":68,"v":-8},{"t":70,"v":11},{"t":72,"v":-7},{"t":74,"v":4},{"t":76,"v":-10},{"t":78,"v":9},{"t":80,"v":-6},{"t":82,"v":12},{"t":84,"v":-9},{"t":86,"v":5},{"t":88,"v":-12},{"t":90,"v":10},{"t":92,"v":-4},{"t":94,"v":8},{"t":96,"v":-11},{"t":98,"v":9},{"t":100,"v":-7},{"t":102,"v":12},{"t":104,"v":-10},{"t":106,"v":6},{"t":108,"v":-13},{"t":110,"v":11},{"t":112,"v":-8},{"t":113,"v":14},{"t":113.6,"v":-18},{"t":114.2,"v":25},{"t":114.7,"v":-65},{"t":115.2,"v":18},{"t":116,"v":-12},{"t":118,"v":10},{"t":120,"v":-9},{"t":122,"v":14},{"t":124,"v":-11},{"t":126,"v":8},{"t":128,"v":-14},{"t":130,"v":12},{"t":132,"v":-9},{"t":134,"v":13},{"t":136,"v":-12},{"t":138,"v":10},{"t":139.5,"v":-16},{"t":140.1,"v":32},{"t":140.6,"v":-40},{"t":141.1,"v":24},{"t":141.8,"v":-20},{"t":142.6,"v":15},{"t":144,"v":-10},{"t":146,"v":9},{"t":148,"v":-7},{"t":150,"v":10},{"t":152,"v":-8},{"t":154,"v":5},{"t":156,"v":-9},{"t":158,"v":7},{"t":160,"v":-6},{"t":162,"v":9},{"t":164,"v":-10},{"t":166,"v":4},{"t":168,"v":8},{"t":170,"v":-9},{"t":172,"v":6},{"t":174,"v":-5},{"t":176,"v":9},{"t":178,"v":-8},{"t":180,"v":5},{"t":182,"v":-6},{"t":184,"v":7}],
"R3": [{"t":2,"v":4},{"t":4,"v":-8},{"t":6,"v":7},{"t":8,"v":-3},{"t":10,"v":9},{"t":12,"v":-10},{"t":14,"v":5},{"t":16,"v":3},{"t":18,"v":-9},{"t":20,"v":8},{"t":22,"v":-5},{"t":24,"v":10},{"t":26,"v":-7},{"t":28,"v":4},{"t":30,"v":-11},{"t":32,"v":9},{"t":34,"v":-4},{"t":36,"v":7},{"t":38,"v":-10},{"t":40,"v":12},{"t":40.8,"v":-18},{"t":41.5,"v":25},{"t":42.2,"v":-30},{"t":42.8,"v":36},{"t":43.4,"v":-65},{"t":44,"v":30},{"t":44.6,"v":-35},{"t":45.3,"v":22},{"t":46,"v":-18},{"t":47,"v":12},{"t":48,"v":-10},{"t":50,"v":9},{"t":52,"v":-7},{"t":54,"v":10},{"t":56,"v":-5},{"t":58,"v":8},{"t":60,"v":-11},{"t":62,"v":6},{"t":64,"v":-4},{"t":66,"v":10},{"t":68,"v":-9},{"t":70,"v":5},{"t":72,"v":-7},{"t":74,"v":11},{"t":76,"v":-8},{"t":78,"v":4},{"t":80,"v":-10},{"t":82,"v":9},{"t":84,"v":-6},{"t":86,"v":12},{"t":88,"v":-9},{"t":90,"v":7},{"t":92,"v":-11},{"t":94,"v":8},{"t":96,"v":-4},{"t":98,"v":10},{"t":100,"v":-12},{"t":102,"v":7},{"t":104,"v":-6},{"t":106,"v":11},{"t":108,"v":-9},{"t":110,"v":6},{"t":112,"v":-10},{"t":114,"v":9},{"t":116,"v":-7},{"t":118,"v":13},{"t":119,"v":-15},{"t":119.8,"v":18},{"t":120.5,"v":-22},{"t":121.2,"v":25},{"t":121.8,"v":-29},{"t":122.4,"v":20},{"t":123,"v":-18},{"t":124,"v":12},{"t":125,"v":-10},{"t":127,"v":8},{"t":129,"v":-9},{"t":131,"v":11},{"t":133,"v":-6},{"t":135,"v":7},{"t":137,"v":-10},{"t":139,"v":9},{"t":141,"v":-5},{"t":143,"v":10},{"t":145,"v":-9},{"t":147,"v":6},{"t":149,"v":-8},{"t":151,"v":11},{"t":153,"v":-7},{"t":155,"v":5},{"t":157,"v":-10},{"t":159,"v":8},{"t":161,"v":-6},{"t":163,"v":9},{"t":165,"v":-8},{"t":167,"v":5},{"t":169,"v":-9},{"t":171,"v":8},{"t":173,"v":-5},{"t":175,"v":10},{"t":177,"v":-7},{"t":179,"v":6},{"t":181,"v":-9},{"t":183,"v":7},{"t":184,"v":-3}],
"R4": [{"t":2,"v":5},{"t":4,"v":-9},{"t":6,"v":8},{"t":8,"v":-5},{"t":10,"v":10},{"t":12,"v":-8},{"t":14,"v":6},{"t":16,"v":-11},{"t":18,"v":12},{"t":18.8,"v":-20},{"t":19.4,"v":22},{"t":20,"v":-35},{"t":20.5,"v":25},{"t":21,"v":-40},{"t":21.6,"v":20},{"t":22.3,"v":-15},{"t":23.2,"v":10},{"t":25,"v":-8},{"t":27,"v":9},{"t":29,"v":-10},{"t":31,"v":7},{"t":33,"v":-6},{"t":35,"v":10},{"t":37,"v":-9},{"t":39,"v":8},{"t":41,"v":-11},{"t":43,"v":9},{"t":44.5,"v":14},{"t":45.1,"v":-22},{"t":45.6,"v":43},{"t":46.1,"v":-50},{"t":46.6,"v":35},{"t":47.2,"v":-30},{"t":47.9,"v":20},{"t":48.7,"v":-14},{"t":50,"v":9},{"t":52,"v":-8},{"t":54,"v":10},{"t":56,"v":-7},{"t":58,"v":6},{"t":60,"v":-10},{"t":62,"v":9},{"t":64,"v":-6},{"t":66,"v":8},{"t":68,"v":-11},{"t":69.5,"v":14},{"t":70.2,"v":-22},{"t":70.7,"v":36},{"t":71.2,"v":-45},{"t":71.7,"v":30},{"t":72.3,"v":-28},{"t":73,"v":18},{"t":73.8,"v":-12},{"t":75,"v":9},{"t":77,"v":-8},{"t":79,"v":10},{"t":81,"v":-6},{"t":83,"v":7},{"t":85,"v":-10},{"t":87,"v":9},{"t":89,"v":-7},{"t":91,"v":6},{"t":93,"v":-9},{"t":95,"v":12},{"t":95.8,"v":-25},{"t":96.3,"v":55},{"t":96.8,"v":-83},{"t":97.3,"v":40},{"t":97.9,"v":-35},{"t":98.5,"v":25},{"t":99.2,"v":-18},{"t":100,"v":12},{"t":102,"v":-9},{"t":104,"v":8},{"t":106,"v":-10},{"t":108,"v":7},{"t":110,"v":-6},{"t":112,"v":9},{"t":114,"v":-8},{"t":116,"v":6},{"t":118,"v":-10},{"t":120,"v":9},{"t":121.5,"v":-14},{"t":122.2,"v":22},{"t":122.7,"v":-38},{"t":123.2,"v":29},{"t":123.7,"v":-40},{"t":124.2,"v":24},{"t":124.9,"v":-18},{"t":125.8,"v":12},{"t":127,"v":-8},{"t":129,"v":9},{"t":131,"v":-7},{"t":133,"v":6},{"t":135,"v":-10},{"t":137,"v":8},{"t":139,"v":-6},{"t":141,"v":10},{"t":143,"v":-9},{"t":145,"v":7},{"t":147,"v":-12},{"t":147.9,"v":18},{"t":148.4,"v":-35},{"t":148.9,"v":25},{"t":149.4,"v":-50},{"t":149.9,"v":22},{"t":150.6,"v":-18},{"t":151.5,"v":12},{"t":153,"v":-9},{"t":155,"v":8},{"t":157,"v":-10},{"t":159,"v":6},{"t":161,"v":-7},{"t":163,"v":10},{"t":165,"v":-8},{"t":167,"v":7},{"t":169,"v":-10},{"t":171,"v":9},{"t":172.5,"v":-14},{"t":173.1,"v":22},{"t":173.6,"v":-45},{"t":174.1,"v":29},{"t":174.6,"v":-30},{"t":175.2,"v":18},{"t":176,"v":-12},{"t":178,"v":8},{"t":180,"v":-9},{"t":182,"v":6},{"t":184,"v":-5}],
"Md": [{"s":50.8,"e":59.2},{"s":76.6,"e":85},{"s":102.5,"e":110.9},{"s":128,"e":136.4},{"s":153.5,"e":161.9},{"s":179.4,"e":187.8}],
"Rd": [{"s":11.9,"e":20.3},{"s":37.5,"e":45.9},{"s":63.3,"e":71.7},{"s":88.9,"e":97.3},{"s":114.7,"e":123.1},{"s":140.2,"e":148.6},{"s":166.1,"e":174.5}]
},
"spacing": 10,
"hconcat": [
{"spacing": 0, "bounds": "flush", "vconcat": [
 {"width": 260, "height": 103, "layer": [
  {"data": {"name": "L1s"}, "mark": {"type": "rule", "color": "#8a8a8a", "strokeWidth": 0.7}, "encoding": {"x": {"field": "t", "type": "quantitative", "scale": {"domain": [-4.166, 21.2], "nice": false, "zero": false}}, "y": {"field": "a", "type": "quantitative", "scale": {"domain": [-270, 100], "nice": false, "zero": false}}, "y2": {"field": "b"}}},
  {"data": {"name": "L1b"}, "mark": {"type": "area", "color": "#000"}, "encoding": {"x": {"field": "t", "type": "quantitative"}, "y": {"field": "lo", "type": "quantitative"}, "y2": {"field": "hi"}}},
  {"data": {"name": "L1p"}, "mark": {"type": "square", "color": "#2424cc", "size": 4, "opacity": 1}, "encoding": {"x": {"field": "t", "type": "quantitative"}, "y": {"datum": -165}}},
  {"data": {"values": [{}]}, "mark": {"type": "rule", "color": "#e06a6a", "strokeWidth": 1}, "encoding": {"x": {"datum": 0}}},
  {"data": {"values": [{}]}, "mark": {"type": "rule", "color": "#8ee07c", "strokeWidth": 1}, "encoding": {"x": {"datum": 2}}},
  {"data": {"values": [{"lab": "0.5 Hz"}]}, "mark": {"type": "text", "angle": 270, "fontSize": 15}, "encoding": {"text": {"field": "lab"}, "x": {"datum": -3.29}, "y": {"datum": -14}}}
 ]},
 {"width": 260, "height": 103, "layer": [
  {"data": {"name": "L2s"}, "mark": {"type": "rule", "color": "#8a8a8a", "strokeWidth": 0.7}, "encoding": {"x": {"field": "t", "type": "quantitative", "scale": {"domain": [-4.166, 21.2], "nice": false, "zero": false}}, "y": {"field": "a", "type": "quantitative", "scale": {"domain": [-270, 100], "nice": false, "zero": false}}, "y2": {"field": "b"}}},
  {"data": {"name": "L2b"}, "mark": {"type": "area", "color": "#000"}, "encoding": {"x": {"field": "t", "type": "quantitative"}, "y": {"field": "lo", "type": "quantitative"}, "y2": {"field": "hi"}}},
  {"data": {"name": "L2p"}, "mark": {"type": "square", "color": "#2424cc", "size": 4, "opacity": 1}, "encoding": {"x": {"field": "t", "type": "quantitative"}, "y": {"datum": -165}}},
  {"data": {"values": [{}]}, "mark": {"type": "rule", "color": "#e06a6a", "strokeWidth": 1}, "encoding": {"x": {"datum": 0}}},
  {"data": {"values": [{}]}, "mark": {"type": "rule", "color": "#8ee07c", "strokeWidth": 1}, "encoding": {"x": {"datum": 2}}},
  {"data": {"values": [{"lab": "1 Hz"}]}, "mark": {"type": "text", "angle": 270, "fontSize": 15}, "encoding": {"text": {"field": "lab"}, "x": {"datum": -3.29}, "y": {"datum": 14}}}
 ]},
 {"width": 260, "height": 103, "layer": [
  {"data": {"name": "L3s"}, "mark": {"type": "rule", "color": "#8a8a8a", "strokeWidth": 0.7}, "encoding": {"x": {"field": "t", "type": "quantitative", "scale": {"domain": [-4.166, 21.2], "nice": false, "zero": false}}, "y": {"field": "a", "type": "quantitative", "scale": {"domain": [-270, 100], "nice": false, "zero": false}}, "y2": {"field": "b"}}},
  {"data": {"name": "L3b"}, "mark": {"type": "area", "color": "#000"}, "encoding": {"x": {"field": "t", "type": "quantitative"}, "y": {"field": "lo", "type": "quantitative"}, "y2": {"field": "hi"}}},
  {"data": {"name": "L3p"}, "mark": {"type": "square", "color": "#2424cc", "size": 4, "opacity": 1}, "encoding": {"x": {"field": "t", "type": "quantitative"}, "y": {"datum": -162}}},
  {"data": {"values": [{}]}, "mark": {"type": "rule", "color": "#e06a6a", "strokeWidth": 1}, "encoding": {"x": {"datum": 0}}},
  {"data": {"values": [{}]}, "mark": {"type": "rule", "color": "#8ee07c", "strokeWidth": 1}, "encoding": {"x": {"datum": 2}}},
  {"data": {"values": [{"lab": "2 Hz"}]}, "mark": {"type": "text", "angle": 270, "fontSize": 15}, "encoding": {"text": {"field": "lab"}, "x": {"datum": -3.29}, "y": {"datum": 10}}}
 ]},
 {"width": 260, "height": 85, "layer": [
  {"data": {"name": "L4s"}, "mark": {"type": "rule", "color": "#8a8a8a", "strokeWidth": 0.7}, "encoding": {"x": {"field": "t", "type": "quantitative", "scale": {"domain": [-4.166, 21.2], "nice": false, "zero": false}}, "y": {"field": "a", "type": "quantitative", "scale": {"domain": [-205, 100], "nice": false, "zero": false}}, "y2": {"field": "b"}}},
  {"data": {"name": "L4b"}, "mark": {"type": "area", "color": "#000"}, "encoding": {"x": {"field": "t", "type": "quantitative"}, "y": {"field": "lo", "type": "quantitative"}, "y2": {"field": "hi"}}},
  {"data": {"values": [{}]}, "mark": {"type": "rule", "color": "#2424cc", "strokeWidth": 2.5}, "encoding": {"x": {"datum": 0}, "x2": {"datum": 19.95}, "y": {"datum": -163}}},
  {"data": {"values": [{}]}, "mark": {"type": "rule", "color": "#e06a6a", "strokeWidth": 1}, "encoding": {"x": {"datum": 0}, "y": {"datum": 100}, "y2": {"datum": -163}}},
  {"data": {"values": [{}]}, "mark": {"type": "rule", "color": "#8ee07c", "strokeWidth": 1}, "encoding": {"x": {"datum": 2}, "y": {"datum": 100}, "y2": {"datum": -163}}},
  {"data": {"values": [{}]}, "mark": {"type": "rule", "color": "#000", "strokeWidth": 1}, "encoding": {"x": {"datum": -0.68}, "y": {"datum": -144}, "y2": {"datum": -194}}},
  {"data": {"values": [{}]}, "mark": {"type": "rule", "color": "#000", "strokeWidth": 1}, "encoding": {"x": {"datum": -0.68}, "x2": {"datum": 0.22}, "y": {"datum": -194}}},
  {"data": {"values": [{}]}, "mark": {"type": "rule", "color": "#000", "strokeWidth": 0.8, "strokeDash": [2, 1.5]}, "encoding": {"x": {"datum": 11.28}, "x2": {"datum": 13.4}, "y": {"datum": -165}, "y2": {"datum": -187}}},
  {"data": {"values": [{}]}, "mark": {"type": "rule", "color": "#000", "strokeWidth": 0.8, "strokeDash": [2, 1.5]}, "encoding": {"x": {"datum": 11.28}, "x2": {"datum": 13.4}, "y": {"datum": -165}, "y2": {"datum": -202}}},
  {"data": {"values": [{}]}, "mark": {"type": "rule", "color": "#2424cc", "strokeWidth": 2, "strokeDash": [2, 2.1]}, "encoding": {"x": {"datum": 13.4}, "x2": {"datum": 19.76}, "y": {"datum": -187}}},
  {"data": {"values": [{}]}, "mark": {"type": "rule", "color": "#000", "strokeWidth": 2}, "encoding": {"x": {"datum": 13.4}, "x2": {"datum": 20.4}, "y": {"datum": -202}}},
  {"data": {"values": [{"lab": "40 Hz"}]}, "mark": {"type": "text", "angle": 270, "fontSize": 15}, "encoding": {"text": {"field": "lab"}, "x": {"datum": -3.29}, "y": {"datum": 18}}},
  {"data": {"values": [{"lab": "50µV"}]}, "mark": {"type": "text", "angle": 270, "fontSize": 14}, "encoding": {"text": {"field": "lab"}, "x": {"datum": -1.92}, "y": {"datum": -140}}},
  {"data": {"values": [{"lab": "2s"}]}, "mark": {"type": "text", "fontSize": 14}, "encoding": {"text": {"field": "lab"}, "x": {"datum": -0.12}, "y": {"datum": -226}}},
  {"data": {"values": [{"lab": "400 ms"}]}, "mark": {"type": "text", "fontSize": 15}, "encoding": {"text": {"field": "lab"}, "x": {"datum": 16.56}, "y": {"datum": -233}}}
 ]}
]},
{"spacing": 0, "bounds": "flush", "vconcat": [
 {"width": 247, "height": 103, "view": {"fill": "#f6e4e4", "stroke": null}, "layer": [
  {"data": {"name": "M1"}, "mark": {"type": "line", "color": "#2e2e2e", "strokeWidth": 0.7}, "encoding": {"x": {"field": "t", "type": "quantitative", "scale": {"domain": [0, 205.8], "nice": false, "zero": false}}, "y": {"field": "v", "type": "quantitative", "scale": {"domain": [-270, 100], "nice": false, "zero": false}}}},
  {"data": {"values": [{}]}, "mark": {"type": "rule", "color": "#2424cc", "strokeWidth": 2.5}, "encoding": {"x": {"datum": 51.1}, "x2": {"datum": 153.9}, "y": {"datum": -162}}}
 ]},
 {"width": 247, "height": 103, "view": {"fill": "#f6e4e4", "stroke": null}, "layer": [
  {"data": {"name": "M2"}, "mark": {"type": "line", "color": "#2e2e2e", "strokeWidth": 0.7}, "encoding": {"x": {"field": "t", "type": "quantitative", "scale": {"domain": [0, 205.8], "nice": false, "zero": false}}, "y": {"field": "v", "type": "quantitative", "scale": {"domain": [-270, 100], "nice": false, "zero": false}}}},
  {"data": {"values": [{}]}, "mark": {"type": "rule", "color": "#2424cc", "strokeWidth": 2.5}, "encoding": {"x": {"datum": 51.1}, "x2": {"datum": 153.9}, "y": {"datum": -160}}}
 ]},
 {"width": 247, "height": 103, "view": {"fill": "#f6e4e4", "stroke": null}, "layer": [
  {"data": {"name": "M3"}, "mark": {"type": "line", "color": "#2e2e2e", "strokeWidth": 0.7}, "encoding": {"x": {"field": "t", "type": "quantitative", "scale": {"domain": [0, 205.8], "nice": false, "zero": false}}, "y": {"field": "v", "type": "quantitative", "scale": {"domain": [-270, 100], "nice": false, "zero": false}}}},
  {"data": {"values": [{}]}, "mark": {"type": "rule", "color": "#2424cc", "strokeWidth": 2.5}, "encoding": {"x": {"datum": 51.1}, "x2": {"datum": 153.9}, "y": {"datum": -164}}}
 ]},
 {"width": 247, "height": 85, "view": {"fill": "#f6e4e4", "stroke": null}, "layer": [
  {"data": {"name": "M4"}, "mark": {"type": "line", "color": "#2e2e2e", "strokeWidth": 0.7}, "encoding": {"x": {"field": "t", "type": "quantitative", "scale": {"domain": [0, 205.8], "nice": false, "zero": false}}, "y": {"field": "v", "type": "quantitative", "scale": {"domain": [-205, 100], "nice": false, "zero": false}}}},
  {"data": {"name": "Md"}, "mark": {"type": "rule", "color": "#2424cc", "strokeWidth": 2.5}, "encoding": {"x": {"field": "s", "type": "quantitative"}, "x2": {"field": "e"}, "y": {"datum": -162}}},
  {"data": {"values": [{}]}, "mark": {"type": "rule", "color": "#333", "strokeWidth": 1}, "encoding": {"x": {"datum": 15.6}, "y": {"datum": -83}, "y2": {"datum": -133}}},
  {"data": {"values": [{}]}, "mark": {"type": "rule", "color": "#333", "strokeWidth": 1}, "encoding": {"x": {"datum": 15.6}, "x2": {"datum": 40.6}, "y": {"datum": -133}}},
  {"data": {"values": [{"lab": "50µV"}]}, "mark": {"type": "text", "angle": 270, "fontSize": 14}, "encoding": {"text": {"field": "lab"}, "x": {"datum": 5.8}, "y": {"datum": -111}}},
  {"data": {"values": [{"lab": "25ms"}]}, "mark": {"type": "text", "fontSize": 14}, "encoding": {"text": {"field": "lab"}, "x": {"datum": 28.75}, "y": {"datum": -174}}}
 ]}
]},
{"spacing": 0, "bounds": "flush", "vconcat": [
 {"width": 226, "height": 103, "view": {"fill": "#ebfae6", "stroke": null}, "layer": [
  {"data": {"name": "R1"}, "mark": {"type": "line", "color": "#1e2a1e", "strokeWidth": 0.7}, "encoding": {"x": {"field": "t", "type": "quantitative", "scale": {"domain": [0, 188.3], "nice": false, "zero": false}}, "y": {"field": "v", "type": "quantitative", "scale": {"domain": [-270, 100], "nice": false, "zero": false}}}},
  {"data": {"values": [{}]}, "mark": {"type": "rule", "color": "#2424cc", "strokeWidth": 2.5}, "encoding": {"x": {"datum": 37.75}, "x2": {"datum": 140.6}, "y": {"datum": -162}}}
 ]},
 {"width": 226, "height": 103, "view": {"fill": "#ebfae6", "stroke": null}, "layer": [
  {"data": {"name": "R2"}, "mark": {"type": "line", "color": "#1e2a1e", "strokeWidth": 0.7}, "encoding": {"x": {"field": "t", "type": "quantitative", "scale": {"domain": [0, 188.3], "nice": false, "zero": false}}, "y": {"field": "v", "type": "quantitative", "scale": {"domain": [-270, 100], "nice": false, "zero": false}}}},
  {"data": {"values": [{}]}, "mark": {"type": "rule", "color": "#2424cc", "strokeWidth": 2.5}, "encoding": {"x": {"datum": 37.75}, "x2": {"datum": 140.6}, "y": {"datum": -160}}}
 ]},
 {"width": 226, "height": 103, "view": {"fill": "#ebfae6", "stroke": null}, "layer": [
  {"data": {"name": "R3"}, "mark": {"type": "line", "color": "#1e2a1e", "strokeWidth": 0.7}, "encoding": {"x": {"field": "t", "type": "quantitative", "scale": {"domain": [0, 188.3], "nice": false, "zero": false}}, "y": {"field": "v", "type": "quantitative", "scale": {"domain": [-270, 100], "nice": false, "zero": false}}}},
  {"data": {"values": [{}]}, "mark": {"type": "rule", "color": "#2424cc", "strokeWidth": 2.5}, "encoding": {"x": {"datum": 37.75}, "x2": {"datum": 140.6}, "y": {"datum": -164}}}
 ]},
 {"width": 226, "height": 85, "view": {"fill": "#ebfae6", "stroke": null}, "layer": [
  {"data": {"name": "R4"}, "mark": {"type": "line", "color": "#1e2a1e", "strokeWidth": 0.7}, "encoding": {"x": {"field": "t", "type": "quantitative", "scale": {"domain": [0, 188.3], "nice": false, "zero": false}}, "y": {"field": "v", "type": "quantitative", "scale": {"domain": [-205, 100], "nice": false, "zero": false}}}},
  {"data": {"name": "Rd"}, "mark": {"type": "rule", "color": "#2424cc", "strokeWidth": 2.5}, "encoding": {"x": {"field": "s", "type": "quantitative"}, "x2": {"field": "e"}, "y": {"datum": -162}}}
 ]}
]}
]
}
